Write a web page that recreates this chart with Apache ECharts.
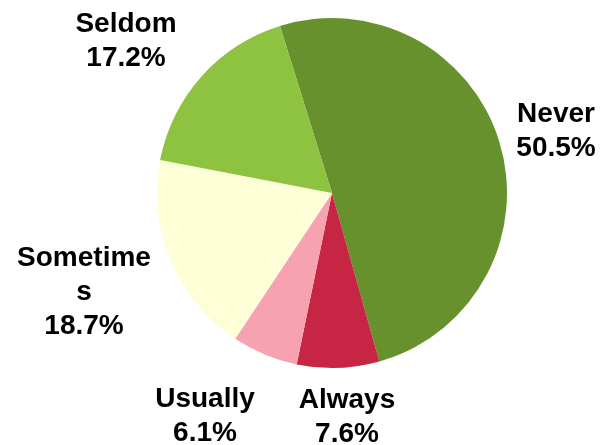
<!DOCTYPE html>
<html>
<head>
<meta charset="utf-8">
<script src="https://cdn.jsdelivr.net/npm/echarts@6/dist/echarts.min.js"></script>
<style>
  html, body { margin: 0; padding: 0; background: #ffffff; }
  #chart { width: 601px; height: 445px; }
</style>
</head>
<body>
<div id="chart"></div>
<script>
// Response categories, clockwise from the top of the pie
const categories = ['Never', 'Always', 'Usually', 'Sometimes', 'Seldom'];
// Label text shown for each category (line-wrapped as printed)
const labelNames = ['Never', 'Always', 'Usually', 'Sometime\ns', 'Seldom'];
// Share of respondents, in percent
const shares = [50.5, 7.6, 6.1, 18.7, 17.2];
// Slice colours
const colors = ['#66912d', '#c62644', '#f7a2b1', '#ffffd7', '#8dc340'];

// Where each label block is centred on the canvas
const labelSpots = [
  [556, 131],
  [347, 417],
  [205, 416],
  [84, 292],
  [126, 41]
];

const chart = echarts.init(document.getElementById('chart'), null, { renderer: 'canvas' });

chart.setOption({
  backgroundColor: '#ffffff',
  animation: false,
  series: [{
    type: 'pie',
    center: [332, 193],
    radius: [0, 175],
    startAngle: 107.3,
    clockwise: true,
    avoidLabelOverlap: false,
    data: categories.map((name, i) => ({
      name: name,
      value: shares[i],
      itemStyle: { color: colors[i] }
    })),
    label: {
      show: true,
      position: 'outside',
      formatter: (p) => labelNames[p.dataIndex] + '\n' + shares[p.dataIndex].toFixed(1) + '%',
      fontFamily: 'Liberation Sans, Arial, sans-serif',
      fontWeight: 'bold',
      fontSize: 28,
      lineHeight: 34,
      color: '#000000',
      align: 'center'
    },
    labelLine: { show: false },
    labelLayout: (params) => ({
      x: labelSpots[params.dataIndex][0],
      y: labelSpots[params.dataIndex][1],
      align: 'center',
      verticalAlign: 'middle'
    }),
    emphasis: { disabled: true }
  }]
});
</script>
</body>
</html>
